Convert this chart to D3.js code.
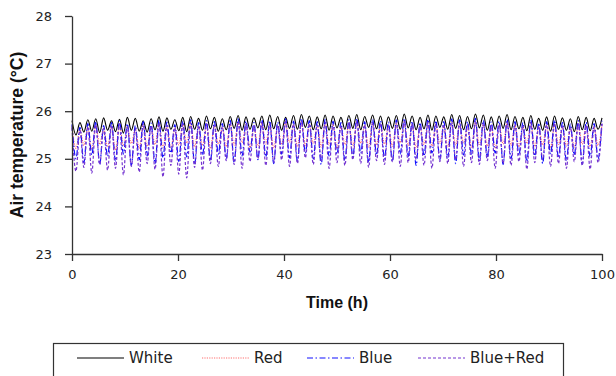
<!DOCTYPE html>
<html>
<head>
<meta charset="utf-8">
<script src="https://cdn.jsdelivr.net/npm/d3@7"></script>
<style>
  body { margin: 0; background: #fff; }
</style>
</head>
<body>
<div id="chart"></div>
<script>
// series names in legend order
const seriesNames = ["White", "Red", "Blue", "Blue+Red"];

// oscillation: value at each crest and each dip (°C)
const whitePeaks = [
  25.80,25.76,25.82,25.84,25.86,25.80,25.83,25.87,25.85,25.80,
  25.84,25.88,25.86,25.82,25.87,25.89,25.85,25.90,25.87,25.84,
  25.89,25.91,25.88,25.86,25.90,25.92,25.89,25.87,25.91,25.93,
  25.90,25.88,25.92,25.90,25.87,25.91,25.93,25.89,25.92,25.90,
  25.88,25.91,25.94,25.90,25.87,25.92,25.90,25.88,25.93,25.91,
  25.89,25.94,25.92,25.88,25.90,25.93,25.89,25.87,25.91,25.85,
  25.88,25.90,25.86,25.84,25.89,25.87,25.85,25.86];
const whiteDips = [
  25.50,25.56,25.58,25.55,25.60,25.57,25.54,25.60,25.58,25.56,
  25.61,25.58,25.62,25.59,25.57,25.62,25.60,25.63,25.58,25.61,
  25.64,25.60,25.62,25.65,25.61,25.63,25.60,25.64,25.62,25.66,
  25.61,25.63,25.60,25.65,25.62,25.64,25.61,25.66,25.63,25.60,
  25.64,25.62,25.65,25.61,25.63,25.60,25.66,25.62,25.64,25.61,
  25.63,25.65,25.60,25.62,25.64,25.61,25.63,25.59,25.62,25.60,
  25.58,25.62,25.60,25.57,25.61,25.59,25.62];

const redPeaks = [
  25.68,25.62,25.66,25.70,25.64,25.68,25.72,25.66,25.62,25.70,
  25.67,25.73,25.69,25.65,25.71,25.74,25.68,25.72,25.70,25.66,
  25.73,25.75,25.70,25.68,25.74,25.72,25.69,25.75,25.71,25.76,
  25.72,25.70,25.74,25.71,25.68,25.73,25.76,25.70,25.74,25.72,
  25.69,25.73,25.76,25.71,25.68,25.74,25.72,25.70,25.75,25.73,
  25.70,25.76,25.72,25.69,25.71,25.74,25.70,25.68,25.73,25.67,
  25.70,25.72,25.68,25.65,25.71,25.69,25.66,25.72];
const redDips = [
  25.22,25.28,25.20,25.30,25.25,25.18,25.27,25.32,25.22,25.26,
  25.30,25.24,25.21,25.29,25.33,25.25,25.28,25.22,25.31,25.26,
  25.29,25.34,25.24,25.27,25.31,25.23,25.30,25.35,25.26,25.28,
  25.32,25.25,25.29,25.22,25.30,25.27,25.33,25.24,25.29,25.31,
  25.26,25.34,25.28,25.23,25.30,25.27,25.32,25.25,25.29,25.33,
  25.24,25.30,25.27,25.22,25.31,25.28,25.25,25.32,25.26,25.29,
  25.23,25.30,25.27,25.24,25.31,25.26,25.28];

const bluePeaks = [
  25.72,25.66,25.74,25.78,25.70,25.76,25.80,25.74,25.70,25.78,
  25.75,25.81,25.77,25.72,25.79,25.82,25.76,25.80,25.78,25.74,
  25.81,25.84,25.79,25.76,25.82,25.80,25.77,25.84,25.79,25.85,
  25.80,25.78,25.83,25.79,25.76,25.82,25.85,25.78,25.83,25.80,
  25.77,25.82,25.85,25.79,25.76,25.83,25.80,25.78,25.84,25.82,
  25.78,25.85,25.81,25.77,25.79,25.83,25.78,25.76,25.82,25.75,
  25.78,25.81,25.76,25.73,25.80,25.77,25.74,25.80];
const blueDips = [
  25.00,24.92,25.08,24.88,25.05,24.95,25.10,24.86,24.98,25.06,
  24.90,25.02,25.12,24.94,25.04,24.88,25.08,24.96,25.10,25.00,
  24.92,25.06,25.14,24.98,25.04,24.90,25.10,25.02,24.95,25.12,
  25.00,24.88,25.06,25.10,24.96,25.04,25.12,24.92,25.08,25.00,
  24.94,25.10,25.04,24.86,25.06,25.12,24.98,25.02,24.90,25.08,
  25.10,24.96,25.04,25.12,24.88,25.00,25.08,24.94,25.06,24.90,
  25.10,25.02,24.96,25.08,24.88,25.04,25.00];

const blueRedPeaks = [
  25.65,25.60,25.68,25.72,25.64,25.70,25.74,25.68,25.64,25.72,
  25.69,25.75,25.71,25.66,25.73,25.76,25.70,25.74,25.72,25.68,
  25.75,25.78,25.73,25.70,25.76,25.74,25.71,25.78,25.73,25.79,
  25.74,25.72,25.77,25.73,25.70,25.76,25.79,25.72,25.77,25.74,
  25.71,25.76,25.79,25.73,25.70,25.77,25.74,25.72,25.78,25.76,
  25.72,25.79,25.75,25.71,25.73,25.77,25.72,25.70,25.76,25.69,
  25.72,25.75,25.70,25.67,25.74,25.71,25.68,25.74];
const blueRedDips = [
  24.74,24.82,24.70,24.88,24.76,24.80,24.66,24.84,24.72,24.90,
  24.78,24.62,24.86,24.68,24.60,24.82,24.76,24.90,24.84,24.96,
  24.88,24.80,24.94,25.00,24.86,24.92,24.98,24.84,24.90,25.02,
  24.88,24.96,24.80,24.92,24.86,24.98,24.90,24.82,24.96,24.88,
  24.94,24.84,24.92,24.98,24.86,24.80,24.94,24.90,24.98,24.84,
  24.92,24.88,24.96,24.80,24.90,24.86,24.94,24.78,24.92,24.98,
  24.84,24.90,24.80,24.94,24.86,24.78,24.92];

const xTicks = [0, 20, 40, 60, 80, 100];
const yTicks = [23, 24, 25, 26, 27, 28];

const width = 616, height = 376;
const plot = { left: 72, right: 602, top: 16, bottom: 254 };

const svg = d3.select("#chart").append("svg")
  .attr("width", width)
  .attr("height", height);

const x = d3.scaleLinear().domain([0, 100]).range([plot.left, plot.right]);
const y = d3.scaleLinear().domain([23, 28]).range([plot.bottom, plot.top]);

// one crest + one dip per cycle, 67 cycles over 100 h
const period = 100 / 67;
function buildSeries(peaks, dips) {
  const pts = [];
  peaks.forEach((v, i) => {
    pts.push({ t: i * period, v: v });
    if (i < dips.length) pts.push({ t: (i + 0.5) * period, v: dips[i] });
  });
  return pts;
}

const series = [
  { name: seriesNames[0], data: buildSeries(whitePeaks, whiteDips), color: "#000000", dash: null, w: 1.1 },
  { name: seriesNames[1], data: buildSeries(redPeaks, redDips), color: "#ff6f6f", dash: "1.2,1.2", w: 1.1 },
  { name: seriesNames[2], data: buildSeries(bluePeaks, blueDips), color: "#1010ff", dash: "6,2.5,1.5,2.5", w: 1.2 },
  { name: seriesNames[3], data: buildSeries(blueRedPeaks, blueRedDips), color: "#7434d0", dash: "3,2", w: 1.2 }
];

const line = d3.line()
  .x(d => x(d.t))
  .y(d => y(d.v))
  .curve(d3.curveMonotoneX);

svg.selectAll(".series")
  .data(series)
  .enter().append("path")
  .attr("class", "series")
  .attr("d", d => line(d.data))
  .attr("fill", "none")
  .attr("stroke", d => d.color)
  .attr("stroke-width", d => d.w)
  .attr("stroke-dasharray", d => d.dash);

// axes
const axisColor = "#333";
const yAxis = svg.append("g")
  .attr("transform", "translate(" + plot.left + ",0)")
  .call(d3.axisLeft(y).tickValues(yTicks).tickFormat(d3.format("d"))
    .tickSize(7).tickPadding(13).tickSizeOuter(0));
const xAxis = svg.append("g")
  .attr("transform", "translate(0," + plot.bottom + ")")
  .call(d3.axisBottom(x).tickValues(xTicks).tickFormat(d3.format("d"))
    .tickSize(7).tickPadding(9).tickSizeOuter(0));

[xAxis, yAxis].forEach(a => {
  a.select(".domain").attr("stroke", axisColor).attr("stroke-width", 1.3);
  a.selectAll(".tick line").attr("stroke", axisColor).attr("stroke-width", 1.3);
  a.selectAll(".tick text")
    .attr("font-family", "DejaVu Sans, sans-serif")
    .attr("font-size", "13px")
    .attr("fill", "#222");
});

// axis titles
svg.append("text")
  .attr("x", (plot.left + plot.right) / 2)
  .attr("y", 308)
  .attr("text-anchor", "middle")
  .attr("font-family", "Liberation Sans, Arial, sans-serif")
  .attr("font-weight", "bold")
  .attr("font-size", "16px")
  .attr("fill", "#111")
  .text("Time (h)");

svg.append("text")
  .attr("transform", "translate(23," + ((plot.top + plot.bottom) / 2) + ") rotate(-90)")
  .attr("text-anchor", "middle")
  .attr("font-family", "Liberation Sans, Arial, sans-serif")
  .attr("font-weight", "bold")
  .attr("font-size", "17.5px")
  .attr("fill", "#111")
  .text("Air temperature (°C)");

// legend
const legend = svg.append("g");
legend.append("rect")
  .attr("x", 53.5).attr("y", 343.5)
  .attr("width", 510).attr("height", 40)
  .attr("fill", "none")
  .attr("stroke", axisColor)
  .attr("stroke-width", 1.2);

const legendX = [77, 202, 307, 418];
const legendY = 358;
const items = legend.selectAll(".item")
  .data(series)
  .enter().append("g")
  .attr("class", "item")
  .attr("transform", (d, i) => "translate(" + legendX[i] + "," + legendY + ")");
items.append("line")
  .attr("x1", 0).attr("x2", 47)
  .attr("stroke", d => d.color)
  .attr("stroke-width", d => d.w)
  .attr("stroke-dasharray", d => d.dash);
items.append("text")
  .attr("x", 52)
  .attr("dy", "0.36em")
  .attr("font-family", "DejaVu Sans, sans-serif")
  .attr("font-size", "15px")
  .attr("fill", "#222")
  .text(d => d.name);
</script>
</body>
</html>
